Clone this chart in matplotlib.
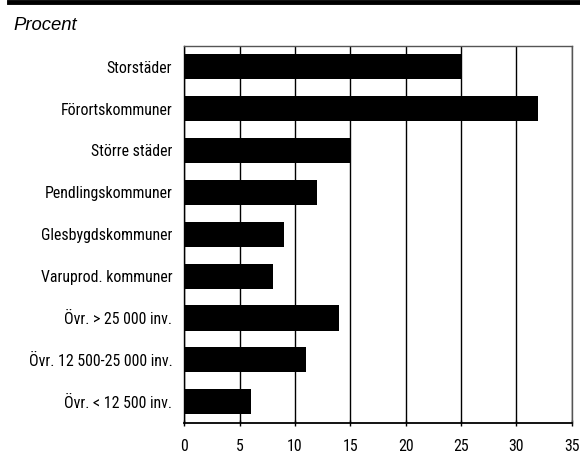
import matplotlib
matplotlib.use("Agg")
import matplotlib.pyplot as plt
from matplotlib.lines import Line2D

# kategorier och andelar (procent)
kategorier = ["Storstäder", "Förortskommuner", "Större städer", "Pendlingskommuner",
              "Glesbygdskommuner", "Varuprod. kommuner", "Övr. > 25 000 inv.",
              "Övr. 12 500-25 000 inv.", "Övr. < 12 500 inv."]
andel = [25, 32, 15, 12, 9, 8, 14, 11, 6]
xticks = [0, 5, 10, 15, 20, 25, 30, 35]

plt.rcParams['font.family'] = ['Roboto Condensed', 'DejaVu Sans']

fig = plt.figure(figsize=(5.8, 4.53), dpi=100)
ax = fig.add_axes([184.3 / 580, 1 - 422.7 / 453, (571.7 - 184.3) / 580, (422.7 - 45.7) / 453])

y = list(range(len(kategorier)))
ax.barh(y, andel, height=0.6, color='black', zorder=3)
ax.set_ylim(len(kategorier) - 0.5, -0.5)
ax.set_xlim(0, 35)
ax.set_xticks(xticks)
ax.set_yticks(y)
ax.set_yticklabels(kategorier, fontsize=11.4)
ax.tick_params(axis='y', length=0, pad=8.6)
ax.tick_params(axis='x', length=4, direction='inout', labelsize=11.4, pad=9.5, width=1)
ax.grid(axis='x', color='black', lw=1, zorder=1)
for s in ['top', 'right']:
    ax.spines[s].set_color('#555555')
    ax.spines[s].set_linewidth(1)
ax.spines['left'].set_linewidth(1)
ax.spines['bottom'].set_linewidth(1.3)

# tjock linje överst
fig.add_artist(Line2D([9 / 580, 1], [1 - 2 / 453, 1 - 2 / 453], color='black', lw=3.5,
                      transform=fig.transFigure))
fig.text(13 / 580, 1 - 26 / 453, "Procent", fontsize=13.3, style='italic',
         family=['Liberation Sans', 'DejaVu Sans'], va='center', ha='left')

fig.savefig("out.png", dpi=100)
